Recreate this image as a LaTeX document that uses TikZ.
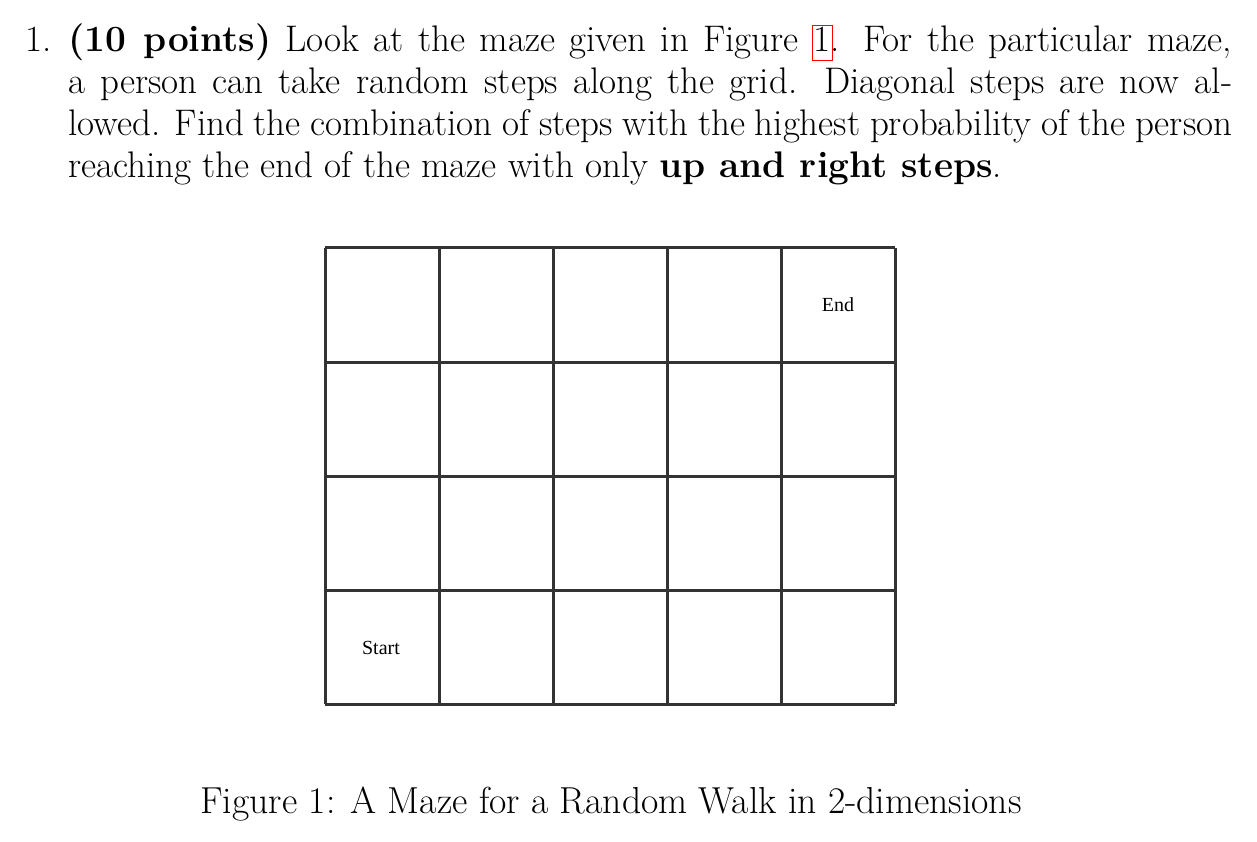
\documentclass[tikz,border=0pt]{standalone}
\usepackage{fontspec}
\usepackage{xcolor}
\newfontfamily\timesf{Liberation Serif}
\begin{document}
\begin{tikzpicture}[x=1pt,y=-1pt,
  txt/.style={anchor=base west,inner sep=0pt,font=\fontsize{37}{42}\selectfont},
  lbl/.style={inner sep=0pt,font=\timesf\fontsize{20}{24}\selectfont},
  gridline/.style={line width=3pt,draw=black!80}]
\useasboundingbox (0,0) rectangle (1257,842);
\node[txt] (n1) at (25,52) {1.};
\node[txt] (l1) at (68,52) {\hbox to 1164pt{\textbf{(10 points)} Look at the maze given in Figure \rlap{\hspace{-0.03em}\color{red}\setlength\fboxrule{1pt}\setlength\fboxsep{0pt}\fbox{\rule[-0.22em]{0pt}{0.92em}\hspace{0.52em}}}1. For the particular maze,}};
\node[txt] (l2) at (68,94) {\hbox to 1164pt{a person can take random steps along the grid. Diagonal steps are now al-}};
\node[txt] (l3) at (68,136) {\hbox to 1164pt{lowed. Find the combination of steps with the highest probability of the person}};
\node[txt] (l4) at (68,178) {reaching the end of the maze with only \textbf{up and right steps}.};
\foreach \i in {0,...,5} \draw[gridline] (325+114*\i,248) -- (325+114*\i,704);
\foreach \j in {0,...,4} \draw[gridline] (325,248+114*\j) -- (895,248+114*\j);
\node[lbl] (e) at (838,305) {End};
\node[lbl] (s) at (381,648) {Start};
\node[anchor=base,inner sep=0pt,font=\fontsize{37.6}{42}\selectfont] (cap) at (611,813) {Figure 1: A Maze for a Random Walk in 2-dimensions};
\end{tikzpicture}
\end{document}
